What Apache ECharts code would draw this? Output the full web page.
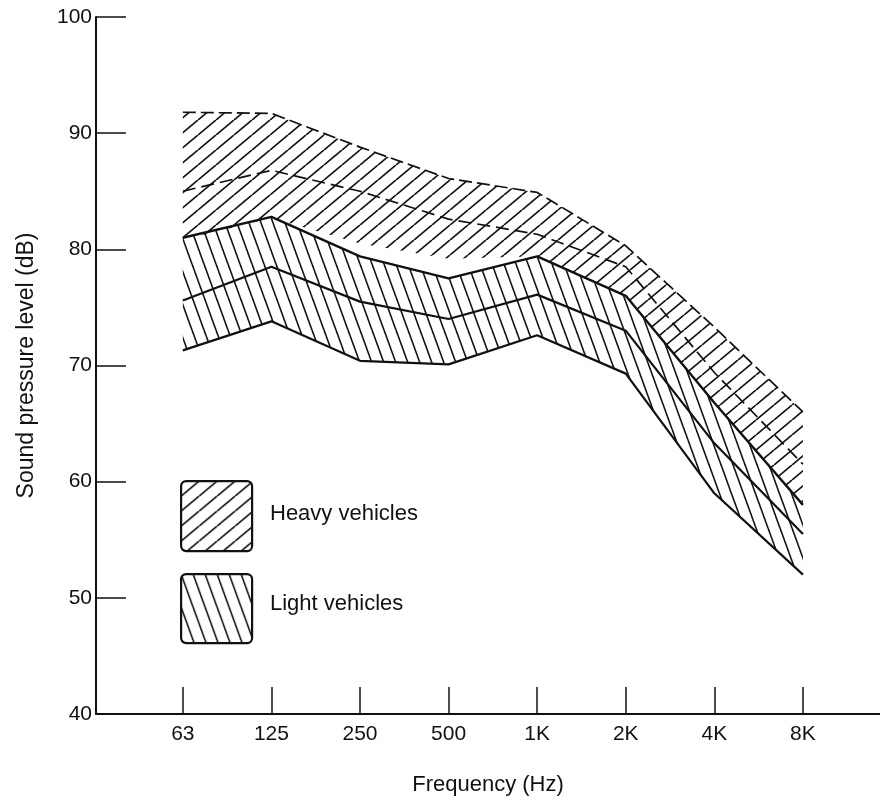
<!DOCTYPE html>
<html>
<head>
<meta charset="utf-8">
<script src="https://cdn.jsdelivr.net/npm/echarts@6/dist/echarts.min.js"></script>
<style>
html,body{margin:0;padding:0;background:#fff;}
#chart{width:880px;height:801px;}
</style>
</head>
<body>
<div id="chart"></div>
<script>
// ---- data ----
var categories = ['63', '125', '250', '500', '1K', '2K', '4K', '8K'];
var yTicks = [40, 50, 60, 70, 80, 90, 100];
var heavyUpper = [91.8, 91.7, 88.8, 86.1, 84.9, 80.3, 73.3, 66.0];
var heavyMean  = [85.0, 86.8, 85.0, 82.6, 81.3, 78.5, 69.4, 61.5];
var heavyLower = [80.8, 82.7, 80.5, 79.2, 79.4, 76.0, 66.8, 58.0];
var lightUpper = [81.0, 82.8, 79.4, 77.5, 79.4, 76.0, 66.8, 58.0];
var lightMean  = [75.6, 78.5, 75.5, 74.0, 76.1, 73.0, 63.3, 55.5];
var lightLower = [71.3, 73.8, 70.4, 70.1, 72.6, 69.3, 59.0, 52.0];

// ---- hatch patterns ----
function hatch(w, h, dir, lw) {
  var c = document.createElement('canvas');
  c.width = w; c.height = h;
  var g = c.getContext('2d');
  g.strokeStyle = '#111';
  g.lineWidth = lw;
  g.lineCap = 'butt';
  for (var k = -1; k <= 1; k++) {
    g.beginPath();
    if (dir > 0) { // "/" lines
      g.moveTo(k * w, h); g.lineTo(k * w + w, 0);
    } else {       // "\" lines
      g.moveTo(k * w, 0); g.lineTo(k * w + w, h);
    }
    g.stroke();
  }
  return { image: c, repeat: 'repeat' };
}
var heavyPattern = hatch(18, 15, 1, 1.7);
var lightPattern = hatch(12, 33, -1, 1.6);

function pts(arr) { return arr.map(function (v, i) { return [i, v]; }); }

// band polygon drawn through the axes' own scales (api.coord)
function bandSeries(name, upper, lower, pattern) {
  return {
    type: 'custom',
    name: name,
    silent: true,
    animation: false,
    z: 2,
    data: upper.map(function (v, i) { return [i, v, lower[i]]; }),
    encode: { x: 0, y: [1, 2] },
    renderItem: function (params, api) {
      if (params.dataIndex !== 0) return null;
      var top = [], bot = [];
      for (var i = 0; i < upper.length; i++) {
        top.push(api.coord([i, upper[i]]));
        bot.push(api.coord([i, lower[i]]));
      }
      return {
        type: 'polygon',
        shape: { points: top.concat(bot.reverse()) },
        style: { fill: pattern, stroke: null }
      };
    }
  };
}

var FONT = 'Liberation Sans';
var INK = '#111';

var chart = echarts.init(document.getElementById('chart'), null, { renderer: 'canvas' });

var lineBase = { type: 'line', symbol: 'none', silent: true, animation: false, z: 5 };

var option = {
  backgroundColor: '#fff',
  animation: false,
  grid: { left: 96, right: 0, top: 17, bottom: 85 },
  xAxis: {
    type: 'value',
    min: -0.98,
    max: 7.87,
    name: 'Frequency (Hz)',
    nameLocation: 'middle',
    nameGap: 60,
    nameTextStyle: { fontFamily: FONT, fontSize: 22, color: INK },
    splitLine: { show: false },
    axisLine: { show: true, onZero: false, lineStyle: { color: INK, width: 2 } },
    axisTick: {
      show: true, inside: true, length: 27,
      customValues: categories.map(function (c, i) { return i; }),
      lineStyle: { color: INK, width: 1.5 }
    },
    axisLabel: {
      customValues: categories.map(function (c, i) { return i; }),
      formatter: function (v) { return categories[Math.round(v)] || ''; },
      fontFamily: FONT, fontSize: 21, color: INK, margin: 10
    }
  },
  yAxis: {
    type: 'value',
    min: yTicks[0],
    max: yTicks[yTicks.length - 1],
    interval: 10,
    name: 'Sound pressure level (dB)',
    nameLocation: 'middle',
    nameGap: 58,
    nameRotate: 90,
    nameTextStyle: { fontFamily: FONT, fontSize: 23, color: INK },
    splitLine: { show: false },
    axisLine: { show: true, onZero: false, lineStyle: { color: INK, width: 2 } },
    axisTick: { show: true, inside: true, length: 30, lineStyle: { color: INK, width: 1.5 } },
    axisLabel: { fontFamily: FONT, fontSize: 21, color: INK, margin: 4 }
  },
  series: [
    bandSeries('Heavy vehicles', heavyUpper, heavyLower, heavyPattern),
    bandSeries('Light vehicles', lightUpper, lightLower, lightPattern),
    Object.assign({}, lineBase, {
      name: 'Heavy upper', data: pts(heavyUpper),
      lineStyle: { color: INK, width: 1.7, type: [13, 5] }
    }),
    Object.assign({}, lineBase, {
      name: 'Heavy mean', data: pts(heavyMean),
      lineStyle: { color: INK, width: 1.7, type: [13, 6] }
    }),
    Object.assign({}, lineBase, {
      name: 'Light upper', data: pts(lightUpper),
      lineStyle: { color: INK, width: 2.4 }
    }),
    Object.assign({}, lineBase, {
      name: 'Light mean', data: pts(lightMean),
      lineStyle: { color: INK, width: 2.2 }
    }),
    Object.assign({}, lineBase, {
      name: 'Light lower', data: pts(lightLower),
      lineStyle: { color: INK, width: 2.2 }
    })
  ],
  graphic: [
    { type: 'rect', left: 180, top: 480, z: 10,
      shape: { width: 71, height: 70, r: 5 },
      style: { fill: heavyPattern, stroke: INK, lineWidth: 2.2 } },
    { type: 'text', left: 270, top: 503, z: 10,
      style: { text: 'Heavy vehicles', fontFamily: FONT, fontSize: 22, fill: INK } },
    { type: 'rect', left: 180, top: 573, z: 10,
      shape: { width: 71, height: 69, r: 5 },
      style: { fill: lightPattern, stroke: INK, lineWidth: 2.2 } },
    { type: 'text', left: 270, top: 593, z: 10,
      style: { text: 'Light vehicles', fontFamily: FONT, fontSize: 22, fill: INK } }
  ]
};
chart.setOption(option);
</script>
</body>
</html>
